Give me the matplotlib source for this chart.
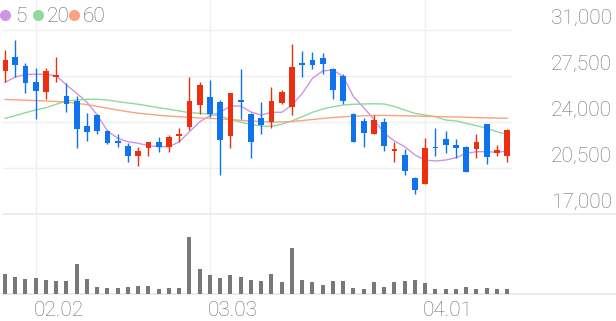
import matplotlib
matplotlib.use("Agg")
import matplotlib.pyplot as plt
from matplotlib.transforms import blended_transform_factory
from matplotlib.lines import Line2D

# ---------------- data ----------------
dates = ["01.28", "01.29", "01.30", "02.02", "02.03", "02.04", "02.05", "02.06",
         "02.09", "02.10", "02.11", "02.12", "02.13", "02.19", "02.20", "02.23",
         "02.24", "02.25", "02.26", "02.27", "03.03", "03.04", "03.05", "03.06",
         "03.09", "03.10", "03.11", "03.12", "03.13", "03.16", "03.17", "03.18",
         "03.19", "03.20", "03.23", "03.24", "03.25", "03.26", "03.27", "03.30",
         "03.31", "04.01", "04.02", "04.03", "04.06", "04.07", "04.08", "04.09",
         "04.10", "04.13"]
label_dates = ["02.02", "03.03", "04.01"]

opens = [27900, 28970, 28260, 27020, 26300, 27400, 26000, 25600, 23720, 24530,
         23320, 22550, 22200, 21410, 22000, 22460, 22080, 22960, 23640, 25290,
         25880, 25500, 22940, 25670, 24590, 24330, 23980, 25470, 25120, 28470,
         28720, 28890, 28030, 27520, 24630, 24080, 23090, 24020, 21820, 21490,
         19760, 19280, 22120, 22680, 22250, 22120, 21950, 23830, 21660, 21440]
highs = [29480, 30240, 28470, 28090, 28090, 28920, 26950, 26000, 24710, 24590,
         23390, 23060, 22380, 22080, 22500, 22840, 23010, 23520, 27450, 27020,
         27200, 25670, 26230, 28010, 24660, 25500, 26690, 26430, 29930, 29400,
         29350, 29270, 28090, 27630, 24660, 24330, 24530, 24330, 22460, 21950,
         19840, 22800, 23570, 23320, 22680, 22170, 23060, 23830, 22250, 23450]
lows = [27070, 27450, 26180, 24200, 25750, 27070, 24740, 22000, 22580, 23060,
        22300, 22120, 20980, 20650, 21410, 21740, 21740, 22500, 23390, 24590,
        24400, 19970, 22000, 24230, 21240, 23060, 23520, 25350, 24530, 27450,
        28010, 27630, 25750, 25350, 22500, 22120, 23090, 21790, 20930, 19970,
        18500, 19280, 21440, 21620, 21280, 20170, 21280, 20780, 21410, 20980]
closes = [28720, 28340, 26950, 26380, 27880, 27580, 25350, 23450, 23260, 23320,
          22380, 22420, 21440, 21820, 22500, 22120, 22880, 23060, 25620, 26820,
          24590, 22630, 26230, 25500, 22500, 23770, 25600, 26260, 28210, 28340,
          28340, 28390, 26430, 25600, 22500, 23190, 24150, 22200, 21920, 20300,
          18830, 22050, 22000, 22250, 22000, 20220, 22460, 21360, 21870, 23390]

ma_periods = [5, 20, 60]
ma5 = [27020, 27420, 27630, 27630, 27630, 27520, 26820, 26180, 25500, 24530,
       23320, 22760, 22500, 22380, 22200, 22120, 22120, 22500, 23260, 24020,
       24480, 24740, 25220, 25220, 24760, 24530, 24740, 24740, 25290, 26180,
       27330, 27880, 27960, 27450, 25930, 25090, 24190, 23140, 22550, 22120,
       21490, 21110, 21030, 21110, 21280, 21620, 21740, 21740, 21700, 21790]
ma20 = [24280, 24480, 24710, 24910, 25090, 25350, 25600, 25670, 25730, 25730,
        25670, 25550, 25450, 25350, 25220, 25090, 24970, 24840, 24710, 24660,
        24590, 24460, 24190, 24000, 23810, 23700, 23670, 23830, 24080, 24400,
        24740, 24990, 25160, 25290, 25350, 25370, 25390, 25370, 25180, 24910,
        24660, 24530, 24400, 24150, 24080, 23900, 23720, 23520, 23260, 23060]
ma60 = [25710, 25690, 25660, 25630, 25600, 25560, 25510, 25420, 25320, 25190,
        25050, 24910, 24780, 24670, 24590, 24510, 24450, 24400, 24350, 24310,
        24270, 24240, 24190, 24130, 24080, 24030, 24000, 24000, 24040, 24110,
        24190, 24270, 24340, 24400, 24440, 24470, 24500, 24500, 24490, 24470,
        24460, 24430, 24420, 24400, 24380, 24360, 24330, 24320, 24300, 24280]

volumes = [207, 173, 150, 167, 140, 133, 133, 300, 150, 77,
           60, 60, 73, 80, 80, 50, 60, 60, 577, 250,
           193, 160, 197, 177, 140, 133, 200, 127, 463, 145,
           127, 93, 133, 133, 60, 50, 123, 73, 123, 133,
           143, 117, 50, 57, 50, 73, 50, 60, 50, 50]

price_ticks = [17000, 20500, 24000, 27500, 31000]

# ---------------- style ----------------
RED = "#ec2f0f"
BLUE = "#0f72ee"
MA_COLORS = ["#cf94e8", "#8fd99b", "#f9a47e"]
GRID = "#efefef"
TXT = "#6f6f6f"
VOLC = "#787878"
FONT = dict(family=["Roboto", "DejaVu Sans"], fontweight="light")
FS = 15

W, H = 616, 321
fig = plt.figure(figsize=(W / 100, H / 100), dpi=100)


def fpos(x0, y0, x1, y1):
    return [x0 / W, 1 - y1 / H, (x1 - x0) / W, (y1 - y0) / H]


ax = fig.add_axes(fpos(3, 0, 616, 214))
axv = fig.add_axes(fpos(3, 215, 616, 294.3), sharex=ax)

n = len(closes)
xs = list(range(n))
for a in (ax, axv):
    a.set_axis_off()
ax.set_xlim(-0.195, 59.61)
ax.set_ylim(17000, 33283)
axv.set_ylim(0, 793)

# gridlines
for v in price_ticks[1:]:
    ax.axhline(v, xmin=0, xmax=508 / 613, color=GRID, lw=1, zorder=0)
ax.axhline(price_ticks[0], color="#e9e9e9", lw=1.2, zorder=0, clip_on=False)
axv.axhline(0, color="#e6e6e6", lw=1.2, zorder=0, clip_on=False)
tick_idx = [dates.index(d) for d in label_dates]
for i in tick_idx:
    ax.axvline(i, color=GRID, lw=1, zorder=0)
    axv.axvline(i, color=GRID, lw=1, zorder=0)

# candles
body_w = 0.54
for i in xs:
    o, h, l, c = opens[i], highs[i], lows[i], closes[i]
    col = RED if c >= o else BLUE
    ax.vlines(i, l, h, color=col, lw=1.0, zorder=3)
    bot = min(o, c)
    ht = max(abs(c - o), 110)
    ax.bar(i, ht, bottom=bot, width=body_w, color=col, linewidth=0, zorder=4)

# moving averages
for ma, col in zip([ma5, ma20, ma60], MA_COLORS):
    ax.plot(xs, ma, color=col, lw=1.0, zorder=2)

# volume
axv.bar(xs, volumes, width=0.39, color=VOLC, linewidth=0, zorder=3)

# y labels
tr = blended_transform_factory(ax.transAxes, ax.transData)
for v in price_ticks:
    ax.annotate(f"{v:,}", xy=(1, v), xycoords=tr, xytext=(-3, 4.3),
                textcoords="offset points", ha="right", va="baseline",
                fontsize=FS, color=TXT, **FONT)

# x labels
trx = blended_transform_factory(axv.transData, fig.transFigure)
for i, d in zip(tick_idx, label_dates):
    axv.text(i - 0.2, 1 - 316.5 / H, d, transform=trx, ha="left", va="baseline",
             fontsize=FS, color=TXT, **FONT)

# legend
lx = [5, 37.5, 74]
tx = [15, 47, 83]
for p, col, cx, t in zip(ma_periods, MA_COLORS, lx, tx):
    fig.add_artist(Line2D([cx / W], [1 - 15 / H], marker="o", markersize=7.0,
                          color=col, linestyle="none", transform=fig.transFigure))
    fig.text(t / W, 1 - 21.5 / H, str(p), ha="left", va="baseline",
             fontsize=FS, color="#666666", **FONT)

fig.savefig("out.png", dpi=100)
